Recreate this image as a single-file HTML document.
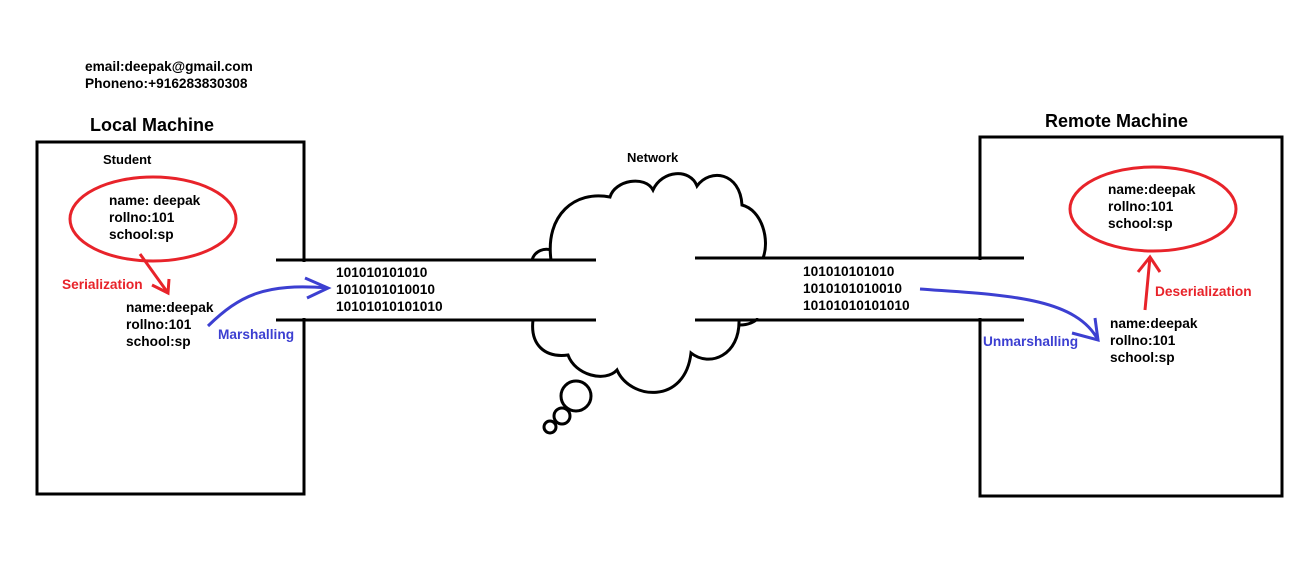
<!DOCTYPE html>
<html><head><style>
body{margin:0;background:#fff;}
svg{display:block}
text{font-family:"Liberation Sans",Arial,sans-serif;font-weight:bold;font-size:13.7px;fill:#000}
</style></head><body>
<svg width="1316" height="574" viewBox="0 0 1316 574" xmlns="http://www.w3.org/2000/svg">
<text x="85" y="71">email:deepak@gmail.com</text>
<text x="85" y="88">Phoneno:+916283830308</text>
<text x="90" y="131" style="font-size:18px">Local Machine</text>
<text x="1045" y="127" style="font-size:18px">Remote Machine</text>
<text x="627" y="162" style="font-size:13px">Network</text>
<text x="103" y="164" style="font-size:13px">Student</text>
<g fill="none" stroke="#000" stroke-width="3">
<rect x="37" y="142" width="267" height="352"/>
<rect x="980" y="137" width="302" height="359"/>
</g>
<g fill="none" stroke="#000" stroke-width="3">
<path d="M551,260 C545,215 575,190 610,197 C615,180 645,175 653,190 C662,170 690,168 697,186 C710,168 740,172 742,205 C762,210 770,240 763,258"/>
<path d="M532,260 C535,250 545,248 551,250"/>
<path d="M533,320 C530,345 545,358 568,355 C575,375 605,383 617,370 C630,400 685,405 691,353 C710,368 740,355 739,320"/>
<path d="M740,325 C748,325 755,322 758,318"/>
<circle cx="576" cy="396" r="15"/>
<circle cx="562" cy="416" r="8"/>
<circle cx="550" cy="427" r="6"/>
</g>
<rect x="305" y="262" width="668" height="56" fill="#fff"/>
<rect x="596" y="250" width="99" height="80" fill="#fff"/>
<g stroke="#000" stroke-width="3">
<line x1="276" y1="260" x2="596" y2="260"/>
<line x1="276" y1="320" x2="596" y2="320"/>
<line x1="695" y1="258" x2="1024" y2="258"/>
<line x1="695" y1="320" x2="1024" y2="320"/>
</g>
<line x1="304" y1="262" x2="304" y2="318" stroke="#fff" stroke-width="4"/>
<line x1="980" y1="260" x2="980" y2="318" stroke="#fff" stroke-width="4"/>
<ellipse cx="153" cy="219" rx="83" ry="42" fill="none" stroke="#e8232a" stroke-width="3"/>
<ellipse cx="1153" cy="209" rx="83" ry="42" fill="none" stroke="#e8232a" stroke-width="3"/>
<text x="109" y="205">name: deepak</text>
<text x="109" y="222">rollno:101</text>
<text x="109" y="239">school:sp</text>
<text x="126" y="312">name:deepak</text>
<text x="126" y="329">rollno:101</text>
<text x="126" y="346">school:sp</text>
<text x="1108" y="194">name:deepak</text>
<text x="1108" y="211">rollno:101</text>
<text x="1108" y="228">school:sp</text>
<text x="1110" y="328">name:deepak</text>
<text x="1110" y="345">rollno:101</text>
<text x="1110" y="362">school:sp</text>
<text x="336" y="277">101010101010</text>
<text x="336" y="294">1010101010010</text>
<text x="336" y="311">10101010101010</text>
<text x="803" y="276">101010101010</text>
<text x="803" y="293">1010101010010</text>
<text x="803" y="310">10101010101010</text>
<text x="62" y="289" style="fill:#e8232a">Serialization</text>
<text x="1155" y="296" style="fill:#e8232a">Deserialization</text>
<text x="218" y="339" style="fill:#3c3fd1">Marshalling</text>
<text x="983" y="346" style="fill:#3c3fd1">Unmarshalling</text>
<g fill="none" stroke="#e8232a" stroke-width="3">
<path d="M140,254 L168,293 M152,285 L168,293 L169,279"/>
<path d="M1145,310 L1150,257 M1138,272 L1150,257 L1160,272"/>
</g>
<g fill="none" stroke="#3c3fd1" stroke-width="3">
<path d="M208,326 C240,295 265,283 328,288 M305,278 L328,288 L307,298"/>
<path d="M920,289 C1000,295 1075,296 1098,340 M1095,318 L1098,340 L1072,333"/>
</g>
</svg>
</body></html>
